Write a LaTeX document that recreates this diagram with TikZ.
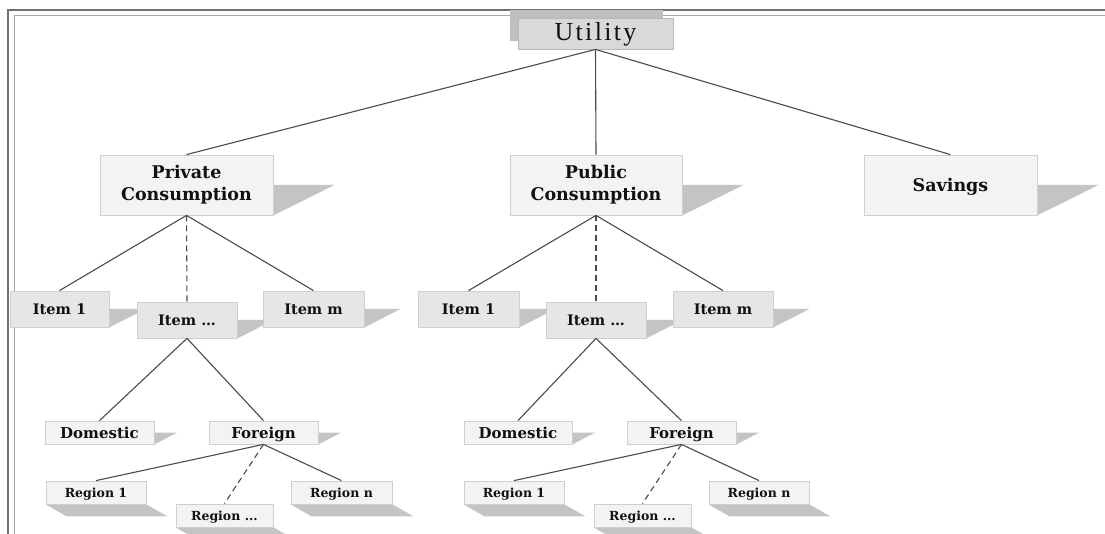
\documentclass[tikz,border=0pt]{standalone}
\usepackage{fontspec}
\setmainfont{DejaVu Serif}
\newfontfamily\utilfont[LetterSpace=9]{Liberation Serif}
\usetikzlibrary{calc,backgrounds}
\definecolor{framedark}{HTML}{707070}
\definecolor{framelight}{HTML}{A8A8A8}
\definecolor{shadowc}{HTML}{C4C4C4}
\definecolor{boxlight}{HTML}{F3F3F3}
\definecolor{boxmid}{HTML}{E6E6E6}
\definecolor{boxedge}{HTML}{CFCFCF}
\definecolor{utilfill}{HTML}{D9D9D9}
\definecolor{utilback}{HTML}{BFBFBF}
\definecolor{linec}{HTML}{4A4A4A}
\definecolor{textc}{HTML}{111111}
\begin{document}
\begin{tikzpicture}[x=1pt,y=-1pt,
  basebox/.style={draw=boxedge, line width=0.8pt, inner sep=0pt, align=center, text=textc},
  topbox/.style={basebox, fill=boxlight, font=\fontsize{17.5}{22}\selectfont\bfseries},
  savbox/.style={topbox, text height=12.8pt, text depth=0pt},
  itembox/.style={basebox, text height=10.6pt, text depth=0pt, fill=boxmid, font=\fontsize{14.5}{17}\selectfont\bfseries},
  leafbox/.style={basebox, text height=11pt, text depth=0pt, fill=boxlight, font=\fontsize{15}{17}\selectfont\bfseries},
  regbox/.style={basebox, text height=9.1pt, text depth=0pt, fill=boxlight, font=\fontsize{12.5}{15}\selectfont\bfseries},
  conn/.style={draw=linec, line width=1.1pt},
  dconn/.style={conn, dash pattern=on 6pt off 4pt},
  shad/.style={fill=shadowc}
]
\useasboundingbox (0,0) rectangle (1105,534);
% frame
\draw[framelight, line width=1pt] (14,534) -- (14,16) -- (1105,16);
\draw[framedark, line width=1.6pt] (8,534) -- (8,10) -- (1105,10);

% Utility
\node[fill=utilback, inner sep=0pt, minimum width=153pt, minimum height=31pt] (uback) at (586.5,25.5) {};
\node[basebox, text height=17pt, text depth=2pt, draw=utilfill!85!black, fill=utilfill, minimum width=155pt, minimum height=31pt,
      font=\utilfont\fontsize{26}{28}\selectfont] (util) at (595.5,33.5) {Utility};

% top level
\node[topbox, minimum width=173pt, minimum height=60pt] (priv) at (186.5,185) {Private\\Consumption};
\node[topbox, minimum width=172pt, minimum height=60pt] (pub) at (596,185) {Public\\Consumption};
\node[savbox, minimum width=173pt, minimum height=60pt] (sav) at (950.5,185) {Savings};

% items private
\node[itembox, minimum width=99pt, minimum height=36pt] (ia1) at (59.5,309) {Item 1};
\node[itembox, minimum width=100pt, minimum height=36pt] (iad) at (187,320) {Item …};
\node[itembox, minimum width=101pt, minimum height=36pt] (iam) at (313.5,309) {Item m};
% items public
\node[itembox, minimum width=101pt, minimum height=36pt] (ib1) at (468.5,309) {Item 1};
\node[itembox, minimum width=100pt, minimum height=36pt] (ibd) at (596,320) {Item …};
\node[itembox, minimum width=100pt, minimum height=36pt] (ibm) at (723,309) {Item m};

% domestic / foreign
\node[leafbox, minimum width=109pt, minimum height=23pt] (doma) at (99.5,432.5) {Domestic};
\node[leafbox, minimum width=109pt, minimum height=23pt] (fora) at (263.5,432.5) {Foreign};
\node[leafbox, minimum width=108pt, minimum height=23pt] (domb) at (518,432.5) {Domestic};
\node[leafbox, minimum width=109pt, minimum height=23pt] (forb) at (681.5,432.5) {Foreign};

% regions
\node[regbox, minimum width=100pt, minimum height=23pt] (ra1) at (96,492.5) {Region 1};
\node[regbox, minimum width=97pt, minimum height=23pt] (rad) at (224.5,515.5) {Region ...};
\node[regbox, minimum width=101pt, minimum height=23pt] (ran) at (341.5,492.5) {Region n};
\node[regbox, minimum width=100pt, minimum height=23pt] (rb1) at (514,492.5) {Region 1};
\node[regbox, minimum width=97pt, minimum height=23pt] (rbd) at (642.5,515.5) {Region ...};
\node[regbox, minimum width=100pt, minimum height=23pt] (rbn) at (759,492.5) {Region n};

% shadows
\begin{pgfonlayer}{background}
  \fill[white] (0,0) rectangle (1105,534);
  \foreach \n/\s in {priv/61, pub/61, sav/61, ia1/36, iad/36, iam/36, ib1/36, ibd/36, ibm/36,
                     doma/23, fora/23, domb/23, forb/23} {
    \fill[shad] ($(\n.west)+(\s,0)$) -- ($(\n.east)+(\s,0)$) -- (\n.south east) -- (\n.south west) -- cycle;
  }
  \foreach \n in {ra1, rad, ran, rb1, rbd, rbn} {
    \fill[shad] (\n.south west) -- (\n.south east) -- ($(\n.south east)+(21,12)$) -- ($(\n.south west)+(21,12)$) -- cycle;
  }
\end{pgfonlayer}

% connectors
\draw[conn] (util.south) -- (priv.north);
\draw[conn] (util.south) -- (pub.north);
\draw[conn] (util.south) -- (sav.north);

\draw[conn] (priv.south) -- (ia1.north);
\draw[dconn] (priv.south) -- (iad.north);
\draw[conn] (priv.south) -- (iam.north);
\draw[conn] (pub.south) -- (ib1.north);
\draw[dconn] (pub.south) -- (ibd.north);
\draw[conn] (pub.south) -- (ibm.north);

\draw[conn] (iad.south) -- (doma.north);
\draw[conn] (iad.south) -- (fora.north);
\draw[conn] (ibd.south) -- (domb.north);
\draw[conn] (ibd.south) -- (forb.north);

\draw[conn] (fora.south) -- (ra1.north);
\draw[dconn] (fora.south) -- (rad.north);
\draw[conn] (fora.south) -- (ran.north);
\draw[conn] (forb.south) -- (rb1.north);
\draw[dconn] (forb.south) -- (rbd.north);
\draw[conn] (forb.south) -- (rbn.north);
\end{tikzpicture}
\end{document}
